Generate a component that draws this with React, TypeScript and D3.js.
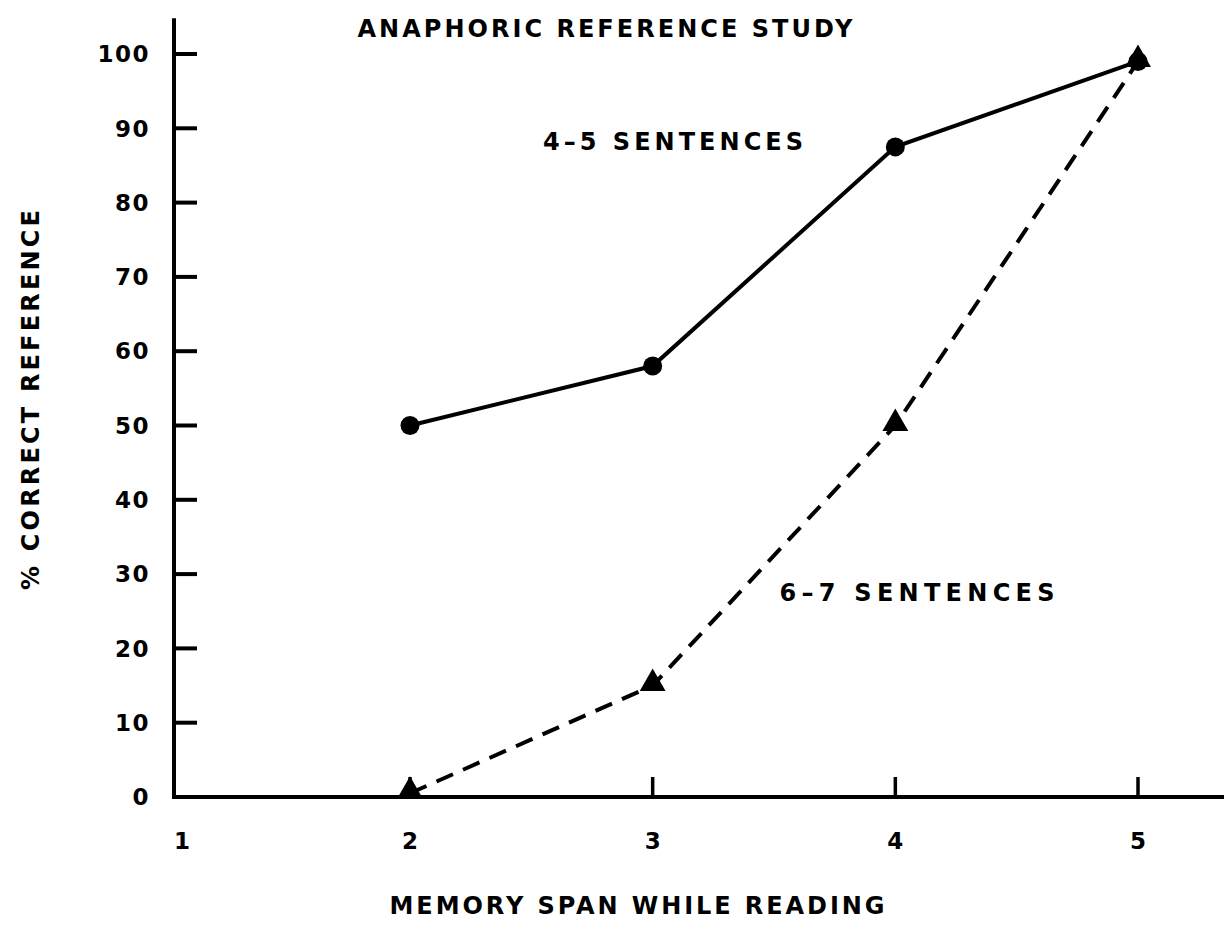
import { useEffect, useRef } from 'react';
import * as d3 from 'd3';

const spans = [2, 3, 4, 5];
const shortPassages = [50, 58, 87.5, 99]; // 4-5 sentences
const longPassages = [0.5, 15, 50, 99]; // 6-7 sentences
const xTickLabels = ['1', '2', '3', '4', '5'];
const yTickValues = [0, 10, 20, 30, 40, 50, 60, 70, 80, 90, 100];

const FONT = 'DejaVu Sans, Verdana, sans-serif';

const App = (): JSX.Element => {
  const svgRef = useRef<SVGSVGElement>(null);

  useEffect(() => {
    const width = 1224;
    const height = 946;
    const svg = d3.select(svgRef.current);
    svg.selectAll('*').remove();

    svg.append('rect').attr('width', width).attr('height', height).attr('fill', 'white');

    const x = d3.scaleLinear().domain([2, 5]).range([410, 1138]);
    const y = d3.scaleLinear().domain([0, 100]).range([797, 54]);
    const x0 = 174; // y axis position

    const g = svg.append('g');

    // axes
    g.append('line')
      .attr('x1', x0).attr('x2', width)
      .attr('y1', y(0)).attr('y2', y(0))
      .attr('stroke', 'black').attr('stroke-width', 4);
    g.append('line')
      .attr('x1', x0).attr('x2', x0)
      .attr('y1', y(0) + 2).attr('y2', y(104.8))
      .attr('stroke', 'black').attr('stroke-width', 4);

    // y ticks (pointing into the plot)
    g.selectAll('.ytick')
      .data(yTickValues.filter(v => v > 0))
      .enter()
      .append('line')
      .attr('x1', x0).attr('x2', x0 + 23)
      .attr('y1', d => y(d)).attr('y2', d => y(d))
      .attr('stroke', 'black').attr('stroke-width', 4);

    g.selectAll('.ylabel')
      .data(yTickValues)
      .enter()
      .append('text')
      .attr('x', 150)
      .attr('y', d => y(d))
      .attr('dy', '0.36em')
      .attr('text-anchor', 'end')
      .attr('font-family', FONT)
      .attr('font-weight', 'bold')
      .attr('font-size', 23)
      .attr('letter-spacing', 1.5)
      .text(d => d);

    // x ticks (pointing up)
    g.selectAll('.xtick')
      .data(spans)
      .enter()
      .append('line')
      .attr('x1', d => x(d)).attr('x2', d => x(d))
      .attr('y1', y(0)).attr('y2', y(0) - 20)
      .attr('stroke', 'black').attr('stroke-width', 3.5);

    g.selectAll('.xlabel')
      .data(xTickLabels)
      .enter()
      .append('text')
      .attr('x', (d, i) => (i === 0 ? 182 : x(+d)))
      .attr('y', 841)
      .attr('dy', '0.36em')
      .attr('text-anchor', 'middle')
      .attr('font-family', FONT)
      .attr('font-weight', 'bold')
      .attr('font-size', 23)
      .text(d => d);

    // lines
    const line = d3.line<number>()
      .x((_d, i) => x(spans[i]))
      .y(d => y(d));

    g.append('path')
      .attr('d', line(shortPassages))
      .attr('fill', 'none')
      .attr('stroke', 'black')
      .attr('stroke-width', 4);

    g.append('path')
      .attr('d', line(longPassages))
      .attr('fill', 'none')
      .attr('stroke', 'black')
      .attr('stroke-width', 4)
      .attr('stroke-dasharray', '18 11');

    g.selectAll('.dot')
      .data(shortPassages)
      .enter()
      .append('circle')
      .attr('cx', (_d, i) => x(spans[i]))
      .attr('cy', d => y(d))
      .attr('r', 9.5)
      .attr('fill', 'black');

    const tri = d3.symbol().type(d3.symbolTriangle).size(290);
    g.selectAll('.tri')
      .data(longPassages)
      .enter()
      .append('path')
      .attr('d', tri)
      .attr('transform', (d, i) => `translate(${x(spans[i])},${y(d) - 2})`)
      .attr('fill', 'black');

    // texts, stretched to the widths seen in the original
    const label = (cx: number, cy: number, s: string, len: number, rotate = false) =>
      g.append('text')
        .attr('transform', rotate ? `translate(${cx},${cy}) rotate(-90)` : `translate(${cx},${cy})`)
        .attr('dy', '0.36em')
        .attr('text-anchor', 'middle')
        .attr('font-family', FONT)
        .attr('font-weight', 'bold')
        .attr('font-size', 24)
        .attr('textLength', len)
        .attr('lengthAdjust', 'spacing')
        .text(s);

    label(605, 28, 'ANAPHORIC REFERENCE STUDY', 495);
    label(673, 141, '4\u20135 SENTENCES', 260);
    label(917, 592, '6\u20137 SENTENCES', 275);
    label(637, 905, 'MEMORY SPAN WHILE READING', 495);
    label(30, 400, '% CORRECT REFERENCE', 380, true);
  }, []);

  return (
    <svg
      ref={svgRef}
      width={1224}
      height={946}
      style={{ position: 'absolute', left: 0, top: 0, display: 'block' }}
    />
  );
};

export default App;
